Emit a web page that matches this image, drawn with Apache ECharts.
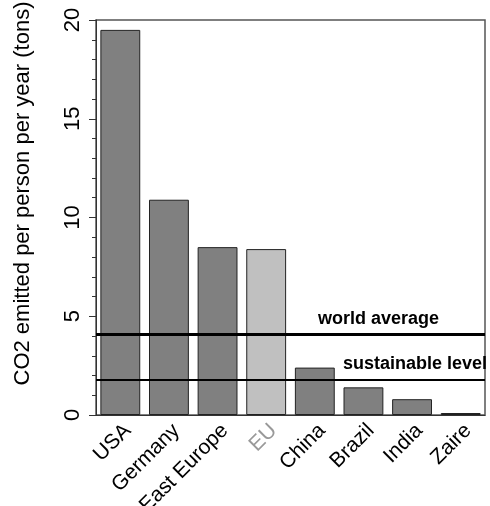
<!DOCTYPE html>
<html>
<head>
<meta charset="utf-8">
<script src="https://cdn.jsdelivr.net/npm/echarts@6/dist/echarts.min.js"></script>
<style>
html,body{margin:0;padding:0;background:#fff;}
#c{width:490px;height:506px;}
</style>
</head>
<body>
<div id="c"></div>
<script>
var categories = ['USA', 'Germany', 'East Europe', 'EU', 'China', 'Brazil', 'India', 'Zaire'];
var emissions = [19.5, 10.9, 8.5, 8.4, 2.4, 1.4, 0.8, 0.1];
var highlighted = ['EU'];
var worldAverage = 4.1;
var sustainableLevel = 1.8;
var yTicks = [0, 5, 10, 15, 20];

var FONT = 'Liberation Sans, Arial, sans-serif';
var chart = echarts.init(document.getElementById('c'), null, {renderer: 'canvas'});

var barData = categories.map(function (c, i) {
  var hi = highlighted.indexOf(c) >= 0;
  return {
    value: emissions[i],
    itemStyle: {color: hi ? '#c0c0c0' : '#808080'}
  };
});

chart.setOption({
  animation: false,
  backgroundColor: '#fff',
  grid: {left: 96, top: 20, right: 5, bottom: 91, show: true, borderColor: '#555', borderWidth: 1.5,
         containLabel: false, outerBoundsMode: 'none'},
  xAxis: {
    type: 'category',
    data: categories,
    axisLine: {show: true, lineStyle: {color: '#333', width: 1}},
    axisTick: {show: false},
    axisLabel: {
      rotate: 45, margin: 5, fontSize: 21, fontFamily: FONT, verticalAlign: 'top',
      color: function (v) { return highlighted.indexOf(v) >= 0 ? '#999' : '#000'; },
      interval: 0
    }
  },
  yAxis: {
    type: 'value',
    min: yTicks[0], max: yTicks[yTicks.length - 1], interval: 5,
    name: 'CO2 emitted per person per year (tons)',
    nameLocation: 'middle', nameRotate: 90, nameGap: 62,
    nameTextStyle: {fontSize: 22, fontFamily: FONT, color: '#000', padding: [0, 0, 0, 48]},
    axisLine: {show: true, lineStyle: {color: '#333', width: 1}},
    axisTick: {show: true, length: 7, lineStyle: {color: '#333'}},
    minorTick: {show: true, splitNumber: 5, length: 4, lineStyle: {color: '#333'}},
    splitLine: {show: false},
    axisLabel: {rotate: 90, margin: 12, fontSize: 22, fontFamily: FONT, color: '#000'}
  },
  series: [{
    type: 'bar',
    data: barData,
    barCategoryGap: '18%',
    itemStyle: {borderColor: '#222', borderWidth: 1},
    markLine: {
      symbol: 'none',
      silent: true,
      data: [
        {yAxis: worldAverage, lineStyle: {color: '#000', width: 3, type: 'solid'},
         label: {formatter: 'world average', position: 'insideEndTop', distance: [46, 6],
                 fontSize: 18, fontWeight: 'bold', fontFamily: FONT, color: '#000'}},
        {yAxis: sustainableLevel, lineStyle: {color: '#000', width: 2, type: 'solid'},
         label: {formatter: 'sustainable level', position: 'insideEndTop', distance: [-2, 6],
                 fontSize: 18, fontWeight: 'bold', fontFamily: FONT, color: '#000'}}
      ]
    }
  }]
});
</script>
</body>
</html>
